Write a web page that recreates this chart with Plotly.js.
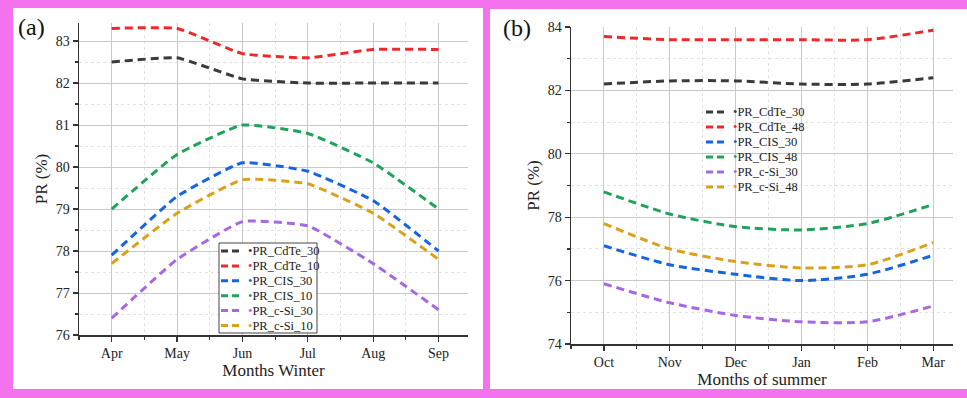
<!DOCTYPE html>
<html>
<head>
<meta charset="utf-8">
<script src="https://cdn.plot.ly/plotly-3.0.1.min.js"></script>
<style>
  html, body { margin: 0; padding: 0; background: #f472ee; }
  #chart { width: 967px; height: 398px; }
</style>
</head>
<body>
<div id="chart"></div>
<script>
// Panel (a): winter months
const monthsWinter = ['Apr', 'May', 'Jun', 'Jul', 'Aug', 'Sep'];
const prCdTe30W = [82.5, 82.6, 82.1, 82.0, 82.0, 82.0];
const prCdTe10W = [83.3, 83.3, 82.7, 82.6, 82.8, 82.8];
const prCIS30W  = [77.9, 79.3, 80.1, 79.9, 79.2, 78.0];
const prCIS10W  = [79.0, 80.3, 81.0, 80.8, 80.1, 79.0];
const prCSi30W  = [76.4, 77.8, 78.7, 78.6, 77.7, 76.6];
const prCSi10W  = [77.7, 78.9, 79.7, 79.6, 78.9, 77.8];
const namesWinter = ['PR_CdTe_30', 'PR_CdTe_10', 'PR_CIS_30', 'PR_CIS_10', 'PR_c-Si_30', 'PR_c-Si_10'];

// Panel (b): summer months
const monthsSummer = ['Oct', 'Nov', 'Dec', 'Jan', 'Feb', 'Mar'];
const prCdTe30S = [82.2, 82.3, 82.3, 82.2, 82.2, 82.4];
const prCdTe48S = [83.7, 83.6, 83.6, 83.6, 83.6, 83.9];
const prCIS30S  = [77.1, 76.5, 76.2, 76.0, 76.2, 76.8];
const prCIS48S  = [78.8, 78.1, 77.7, 77.6, 77.8, 78.4];
const prCSi30S  = [75.9, 75.3, 74.9, 74.7, 74.7, 75.2];
const prCSi48S  = [77.8, 77.0, 76.6, 76.4, 76.5, 77.2];
const namesSummer = ['PR_CdTe_30', 'PR_CdTe_48', 'PR_CIS_30', 'PR_CIS_48', 'PR_c-Si_30', 'PR_c-Si_48'];

const W = 967, H = 398;
const px = v => v / W;
const py = v => 1 - v / H;

const palette = ['#3a3a3a', '#f0282c', '#1565e0', '#1fa35a', '#a868e4', '#d9a21a'];
const serif = 'Liberation Serif, Times New Roman, serif';

function series(x, y, name, color, xa, ya, smooth) {
  return {
    x: x, y: y, name: name, type: 'scatter', mode: 'lines',
    xaxis: xa, yaxis: ya, showlegend: false,
    line: { color: color, width: 3, dash: '8px,5px', shape: 'spline', smoothing: smooth }
  };
}

const xW = monthsWinter.map((m, i) => i);
const xS = monthsSummer.map((m, i) => i);
const winterSeries = [prCdTe30W, prCdTe10W, prCIS30W, prCIS10W, prCSi30W, prCSi10W];
const summerSeries = [prCdTe30S, prCdTe48S, prCIS30S, prCIS48S, prCSi30S, prCSi48S];

const traces = [
  ...winterSeries.map((s, i) => series(xW, s, namesWinter[i], palette[i], 'x', 'y', 0.4)),
  ...summerSeries.map((s, i) => series(xS, s, namesSummer[i], palette[i], 'x2', 'y2', 0.7))
];

const gridMajor = '#c9c9c9';
const gridMinor = '#e2e2e2';

function xAxis(domain, months, range, title, anchor) {
  return {
    domain: domain, anchor: anchor, range: range,
    tickmode: 'array', tickvals: months.map((m, i) => i), ticktext: months,
    showline: true, linecolor: '#333', linewidth: 1.5,
    ticks: 'outside', ticklen: 5, tickcolor: '#333', tickwidth: 1.2,
    showgrid: true, gridcolor: gridMajor, gridwidth: 1,
    minor: { dtick: 0.5, tick0: -0.5, ticks: 'outside', ticklen: 3, tickcolor: '#333',
             showgrid: true, gridcolor: gridMinor, griddash: 'dot', gridwidth: 1 },
    zeroline: false,
    tickfont: { family: serif, size: 14, color: '#222' },
    title: { text: title, font: { family: serif, size: 17, color: '#222' }, standoff: 4 }
  };
}

function yAxis(domain, range, dtick, minorDtick, anchor, standoff) {
  return {
    domain: domain, anchor: anchor, range: range,
    dtick: dtick, tick0: 0,
    showline: true, linecolor: '#333', linewidth: 1.5,
    ticks: 'outside', ticklen: 5, tickcolor: '#333', tickwidth: 1.2,
    showgrid: true, gridcolor: gridMajor, gridwidth: 1,
    minor: { dtick: minorDtick, ticks: 'outside', ticklen: 3, tickcolor: '#333',
             showgrid: true, gridcolor: gridMinor, griddash: 'dot', gridwidth: 1 },
    zeroline: false,
    tickfont: { family: serif, size: 14, color: '#222' },
    title: { text: 'PR (%)', font: { family: serif, size: 17, color: '#222' }, standoff: standoff }
  };
}

// Legend entries: dashed swatch, coloured dot and series name
function legendItems(names, x0, yTop, step) {
  const shapes = [], notes = [];
  names.forEach((n, i) => {
    const yc = yTop + i * step;
    shapes.push({ type: 'line', xref: 'paper', yref: 'paper',
      x0: px(x0), x1: px(x0 + 22), y0: py(yc), y1: py(yc),
      line: { color: palette[i], width: 3, dash: '7px,4px' } });
    notes.push({ text: '<span style="color:' + palette[i] + '">•</span>' + n,
      xref: 'paper', yref: 'paper', x: px(x0 + 25), y: py(yc),
      xanchor: 'left', yanchor: 'middle', showarrow: false,
      font: { family: serif, size: 12.5, color: '#222' } });
  });
  return { shapes, notes };
}

const legA = legendItems(namesWinter, 221, 251, 14.9);
const legB = legendItems(namesSummer, 706, 112, 15);

const layout = {
  width: W, height: H,
  margin: { l: 0, r: 0, t: 0, b: 0 },
  paper_bgcolor: '#f472ee',
  plot_bgcolor: 'rgba(0,0,0,0)',
  font: { family: serif, color: '#222' },
  showlegend: false,
  xaxis:  xAxis([px(79), px(468)], monthsWinter, [-0.5, 5.45], 'Months Winter', 'y'),
  yaxis:  yAxis([py(335), py(23)], [76, 83.43], 1, 0.5, 'x', 4),
  xaxis2: xAxis([px(571), px(953)], monthsSummer, [-0.5, 5.3], 'Months of summer', 'y2'),
  yaxis2: yAxis([py(344), py(27)], [74, 84], 2, 1, 'x2', 4),
  shapes: [
    { type: 'rect', xref: 'paper', yref: 'paper', layer: 'below',
      x0: px(13), x1: px(483), y0: py(389), y1: py(8),
      fillcolor: 'white', line: { width: 0 } },
    { type: 'rect', xref: 'paper', yref: 'paper', layer: 'below',
      x0: px(490), x1: 1, y0: py(389), y1: py(9),
      fillcolor: 'white', line: { width: 0 } },
    { type: 'rect', xref: 'paper', yref: 'paper', layer: 'above',
      x0: px(219), x1: px(317), y0: py(333), y1: py(243),
      fillcolor: 'white', line: { color: '#444', width: 1 } },
    ...legA.shapes, ...legB.shapes
  ],
  annotations: [
    { text: '(a)', xref: 'paper', yref: 'paper', x: px(31), y: py(27),
      xanchor: 'center', yanchor: 'middle',
      showarrow: false, font: { family: serif, size: 24, color: '#111' } },
    { text: '(b)', xref: 'paper', yref: 'paper', x: px(517), y: py(28),
      xanchor: 'center', yanchor: 'middle',
      showarrow: false, font: { family: serif, size: 24, color: '#111' } },
    ...legA.notes, ...legB.notes
  ]
};

Plotly.newPlot('chart', traces, layout, { displayModeBar: false, staticPlot: true });
</script>
</body>
</html>
